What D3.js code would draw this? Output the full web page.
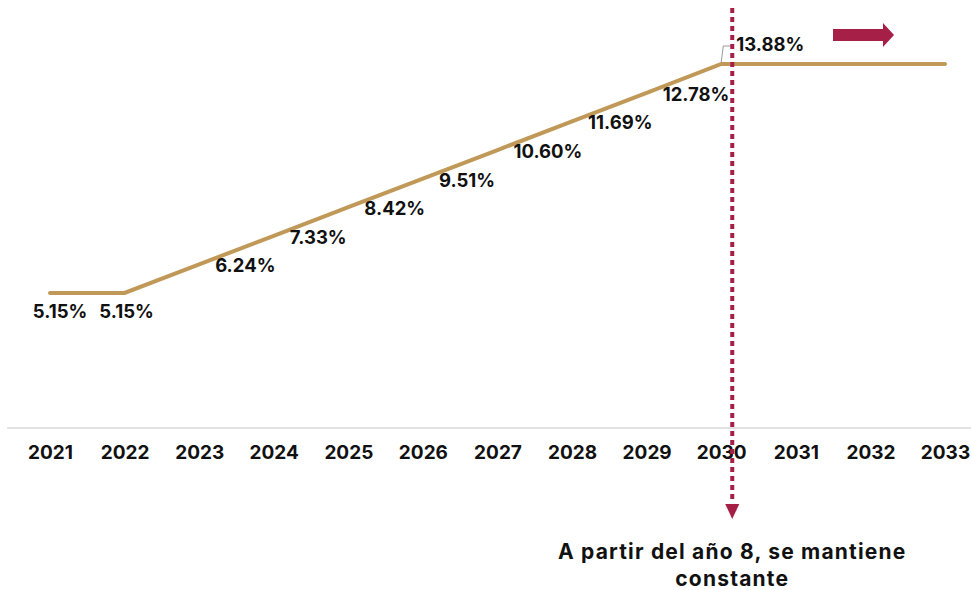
<!DOCTYPE html>
<html lang="es">
<head>
<meta charset="UTF-8">
<title>Tasa</title>
<script src="https://cdn.jsdelivr.net/npm/d3@7"></script>
<style>
  * { margin: 0; padding: 0; }
  body { background: #fff; }
  text { font-family: Inter, "Open Sans", sans-serif; font-weight: 700; fill: #111; }
</style>
</head>
<body>
<div id="chart"></div>
<script>
  // datos
  const years = ['2021', '2022', '2023', '2024', '2025', '2026', '2027', '2028', '2029', '2030', '2031', '2032', '2033'];
  const rates = [5.15, 5.15, 6.24, 7.33, 8.42, 9.51, 10.60, 11.69, 12.78, 13.88, 13.88, 13.88, 13.88];
  const rateLabels = ['5.15%', '5.15%', '6.24%', '7.33%', '8.42%', '9.51%', '10.60%', '11.69%', '12.78%', '13.88%', '', '', ''];
  const noteLines = ['A partir del año 8, se mantiene', 'constante'];

  const width = 971, height = 590;
  const baseY = 428;

  const svg = d3.select('#chart').append('svg')
    .attr('width', width)
    .attr('height', height);

  const x = d3.scalePoint().domain(years).range([50, 945]);
  const y = d3.scaleLinear().domain([0, 13.88]).range([baseY, 64]);

  // eje x
  const xAxisG = svg.append('g')
    .attr('transform', `translate(0,${baseY})`)
    .call(d3.axisBottom(x).tickSize(0).tickPadding(18));
  xAxisG.select('path').remove();
  xAxisG.append('line')
    .attr('x1', 7).attr('x2', width)
    .attr('stroke', '#d9d9d9').attr('stroke-width', 1.5);
  xAxisG.selectAll('.tick text')
    .attr('font-size', '19px')
    .attr('font-family', 'Inter, sans-serif')
    .attr('font-weight', 700)
    .attr('fill', '#111');

  // linea
  const line = d3.line().x((d, i) => x(years[i])).y(d => y(d));
  svg.append('path')
    .datum(rates)
    .attr('d', line)
    .attr('fill', 'none')
    .attr('stroke', '#c09858')
    .attr('stroke-width', 4)
    .attr('stroke-linecap', 'round');

  // etiquetas
  const labelsG = svg.append('g');
  rates.forEach((v, i) => {
    if (!rateLabels[i]) return;
    const px = x(years[i]), py = y(v);
    const t = labelsG.append('text')
      .attr('font-size', '18.5px')
      .text(rateLabels[i]);
    if (i < 2) {
      t.attr('x', px + (i === 0 ? 10 : 2)).attr('y', py + 18)
        .attr('text-anchor', 'middle').attr('dominant-baseline', 'central');
    } else if (i === 9) {
      t.attr('x', px + 15).attr('y', py - 20).attr('dominant-baseline', 'central');
      labelsG.append('path')
        .attr('d', `M${px},${py - 2}L${px + 2},${py - 18}L${px + 11},${py - 18}`)
        .attr('fill', 'none').attr('stroke', '#999').attr('stroke-width', 1);
    } else {
      t.attr('x', px + 16).attr('y', py + 1).attr('dominant-baseline', 'central');
    }
  });

  // linea punteada vertical con flecha
  const markX = x('2030') + 11;
  svg.append('line')
    .attr('x1', markX).attr('x2', markX)
    .attr('y1', 8).attr('y2', 502)
    .attr('stroke', '#a51f46').attr('stroke-width', 4)
    .attr('stroke-dasharray', '5,4');
  svg.append('path')
    .attr('d', `M${markX - 7},504L${markX + 7},504L${markX},519Z`)
    .attr('fill', '#a51f46');

  // flecha derecha
  svg.append('path')
    .attr('d', 'M833,29L883,29L883,23L894,35L883,47L883,41L833,41Z')
    .attr('fill', '#a51f46');

  // nota
  svg.append('text')
    .attr('x', markX).attr('y', 559)
    .attr('text-anchor', 'middle')
    .attr('font-size', '21px')
    .attr('letter-spacing', '1.2px')
    .selectAll('tspan')
    .data(noteLines)
    .join('tspan')
    .attr('x', markX)
    .attr('dy', (d, i) => i === 0 ? 0 : 27)
    .text(d => d);
</script>
</body>
</html>
